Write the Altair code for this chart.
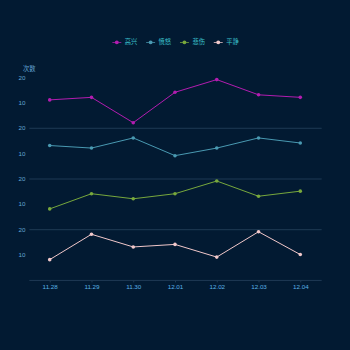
import altair as alt
import pandas as pd

dates = ["11.28", "11.29", "11.30", "12.01", "12.02", "12.03", "12.04"]
names = ["高兴", "愤怒", "悲伤", "平静"]
happy = [11, 12, 2, 14, 19, 13, 12]
angry = [13, 12, 16, 9, 12, 16, 14]
sad = [8, 14, 12, 14, 19, 13, 15]
calm = [8, 18, 13, 14, 9, 19, 10]
series_values = [happy, angry, sad, calm]
colors = ["#b31cb0", "#4a9ab2", "#78a83c", "#f2c9cb"]

FONT = "Liberation Sans, Noto Sans CJK SC"
BG = "#021a32"
AXIS_LINE = "#1f3a55"
YLABEL = "#62a6d6"
XLABEL = "#5ab2e6"
LEGEND_TEXT = "#3cc3cf"

legend_path = (
    "M-1,-0.11H-0.44V0.11H-1Z"
    "M0.44,-0.11H1V0.11H0.44Z"
    "M0.44,0A0.44,0.44,0,1,1,-0.44,0A0.44,0.44,0,1,1,0.44,0Z"
)

legend = alt.Legend(
    title=None,
    orient="none",
    legendX=84,
    legendY=-39.5,
    direction="horizontal",
    symbolType=legend_path,
    symbolSize=81,
    symbolStrokeWidth=0,
    symbolOpacity=1,
    labelFontSize=6.3,
    labelFont=FONT,
    labelColor=LEGEND_TEXT,
    labelOffset=3.5,
    columnPadding=8,
)


def panel(idx):
    name = names[idx]
    df = pd.DataFrame({"date": dates, "value": series_values[idx], "series": name})
    top = idx == 0
    bottom = idx == len(names) - 1
    x_axis = alt.Axis(
        title=None,
        labels=bottom,
        ticks=bottom,
        tickSize=2,
        tickColor=AXIS_LINE,
        labelPadding=1.5,
        labelAngle=0,
        labelFontSize=6.3,
        labelFont=FONT,
        labelColor=XLABEL,
        domainColor=AXIS_LINE,
        domainWidth=1,
        grid=False,
    )
    y_kwargs = dict(
        values=[10, 20],
        grid=False,
        domain=False,
        ticks=False,
        labelPadding=4,
        labelFontSize=6.3,
        labelFont=FONT,
        labelColor=YLABEL,
    )
    if top:
        y_axis = alt.Axis(
            title="次数",
            titleAngle=0,
            titleX=0,
            titleY=-6,
            titleAlign="center",
            titleBaseline="bottom",
            titleFontSize=6.3,
            titleFont=FONT,
            titleFontWeight="normal",
            titleColor=YLABEL,
            **y_kwargs,
        )
    else:
        y_axis = alt.Axis(title=None, **y_kwargs)

    enc = dict(
        x=alt.X("date:O", sort=dates, scale=alt.Scale(type="point", padding=0.5), axis=x_axis),
        y=alt.Y("value:Q", scale=alt.Scale(domain=[0, 20]), axis=y_axis),
        color=alt.Color("series:N", scale=alt.Scale(domain=names, range=colors), legend=legend),
    )
    base = alt.Chart(df)
    pts = base.mark_circle(size=13, opacity=1).encode(**enc)
    line = base.mark_line(strokeWidth=1).encode(**enc)
    return alt.layer(pts, line).properties(width=294, height=51)


chart = alt.vconcat(*[panel(i) for i in range(4)], spacing=0, bounds="flush").configure(
    background=BG,
    padding={"left": 17, "top": 36.5, "right": 28, "bottom": 62},
    font=FONT,
).configure_view(stroke="transparent")

chart.save("out.html", embed_options={"renderer": "svg", "actions": False})
